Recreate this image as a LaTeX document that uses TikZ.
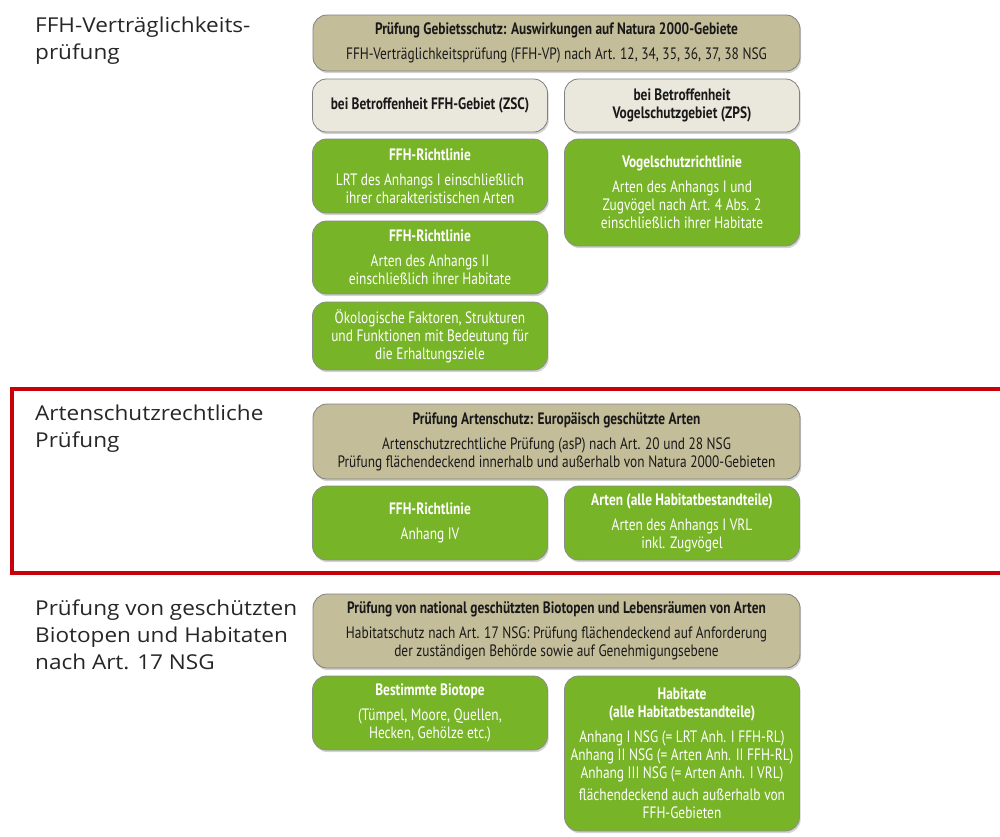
\documentclass[tikz,border=0pt]{standalone}
\usepackage{fontspec}
\newfontfamily\boxfont{PT Sans}[FakeStretch=0.81]
\newfontfamily\labelfont{Open Sans}[FakeStretch=1.1]
\usetikzlibrary{shadows}
\definecolor{tanfill}{HTML}{C4BD9A}
\definecolor{lightfill}{HTML}{EAE7DC}
\definecolor{leafgreen}{HTML}{78B428}
\definecolor{framered}{HTML}{C8000A}
\tikzset{
	box/.style={rounded corners=14pt,draw=black!50,line width=0.8pt,align=center,inner sep=0pt,
		font=\boxfont\fontsize{16.5}{18}\selectfont,
		drop shadow={shadow xshift=1.2pt,shadow yshift=-2.2pt,opacity=0.35}},
	tanbox/.style={box,fill=tanfill,text=black!90,minimum width=487pt},
	lightbox/.style={box,fill=lightfill,text=black!90,minimum width=235pt},
	greenbox/.style={box,fill=leafgreen,draw=black!45,text=white,minimum width=235pt},
	sidelabel/.style={anchor=base west,align=left,inner sep=0pt,text=black!85,
		font=\labelfont\fontsize{20.5}{27}\selectfont}
}
\begin{document}
\begin{tikzpicture}[x=1pt,y=-1pt]
	\useasboundingbox (0,0) rectangle (1000,836);
	% FFH-Vertraeglichkeitspruefung
	\node[sidelabel] (lblffh) at (35,59) {FFH-Verträglichkeits-\\prüfung};
	\node[tanbox,minimum height=56pt] (gebiet) at (556.5,43) {\textbf{Prüfung Gebietsschutz: Auswirkungen auf Natura 2000-Gebiete}\\[7pt]FFH-Verträglichkeitsprüfung (FFH-VP) nach Art. 12, 34, 35, 36, 37, 38 NSG};
	\node[lightbox,minimum height=53pt] (zsc) at (430,105.5) {\textbf{bei Betroffenheit FFH-Gebiet (ZSC)}};
	\node[lightbox,minimum height=53pt] (zps) at (682,105.5) {\textbf{bei Betroffenheit}\\\textbf{Vogelschutzgebiet (ZPS)}};
	\node[greenbox,minimum height=74pt] (lrt) at (430,176) {\textbf{FFH-Richtlinie}\\[7pt]LRT des Anhangs I einschließlich\\ihrer charakteristischen Arten};
	\node[greenbox,minimum height=73pt] (anhzwei) at (430,257.5) {\textbf{FFH-Richtlinie}\\[7pt]Arten des Anhangs II\\einschließlich ihrer Habitate};
	\node[greenbox,minimum height=68pt] (oeko) at (430,336) {Ökologische Faktoren, Strukturen\\und Funktionen mit Bedeutung für\\die Erhaltungsziele};
	\node[greenbox,minimum height=107pt] (vogel) at (682,192.5) {\textbf{Vogelschutzrichtlinie}\\[7pt]Arten des Anhangs I und\\Zugvögel nach Art. 4 Abs. 2\\einschließlich ihrer Habitate};
	% Artenschutzrechtliche Pruefung
	\draw[framered,line width=4.5pt] (12,389) rectangle (1012,573);
	\node[sidelabel] (lblart) at (35,447) {Artenschutzrechtliche\\Prüfung};
	\node[tanbox,minimum height=75pt] (artschutz) at (556.5,441.5) {\textbf{Prüfung Artenschutz: Europäisch geschützte Arten}\\[7pt]Artenschutzrechtliche Prüfung (asP) nach Art. 20 und 28 NSG\\Prüfung flächendeckend innerhalb und außerhalb von Natura 2000-Gebieten};
	\node[greenbox,minimum height=74pt] (anhvier) at (430,523) {\textbf{FFH-Richtlinie}\\[7pt]Anhang IV};
	\node[greenbox,minimum height=74pt] (arten) at (682,523) {\textbf{Arten (alle Habitatbestandteile)}\\[7pt]Arten des Anhangs I VRL\\inkl. Zugvögel};
	% Biotope und Habitate
	\node[sidelabel] (lblbio) at (35,669) {Prüfung von geschützten\\Biotopen und Habitaten\\nach Art. 17 NSG};
	\node[tanbox,minimum height=74pt] (biotop) at (556.5,631) {\textbf{Prüfung von national geschützten Biotopen und Lebensräumen von Arten}\\[7pt]Habitatschutz nach Art. 17 NSG: Prüfung flächendeckend auf Anforderung\\der zuständigen Behörde sowie auf Genehmigungsebene};
	\node[greenbox,minimum height=74pt] (bestimmt) at (430,713) {\textbf{Bestimmte Biotope}\\[7pt](Tümpel, Moore, Quellen,\\Hecken, Gehölze etc.)};
	\node[greenbox,minimum height=155pt] (habitat) at (682,753.5) {\textbf{Habitate}\\\textbf{(alle Habitatbestandteile)}\\[7pt]Anhang I NSG (= LRT Anh. I FFH-RL)\\Anhang II NSG (= Arten Anh. II FFH-RL)\\Anhang III NSG (= Arten Anh. I VRL)\\[4pt]flächendeckend auch außerhalb von\\FFH-Gebieten};
\end{tikzpicture}
\end{document}
